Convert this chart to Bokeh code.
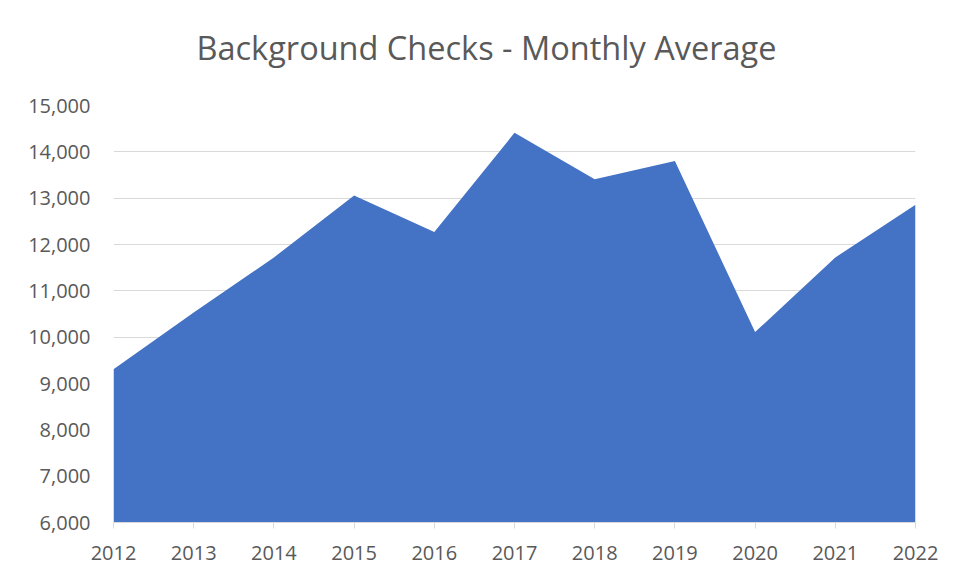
from bokeh.plotting import figure
from bokeh.models import Range1d, FixedTicker, NumeralTickFormatter, Title
from bokeh.embed import file_html
from bokeh.resources import INLINE

years = [2012, 2013, 2014, 2015, 2016, 2017, 2018, 2019, 2020, 2021, 2022]
checks = [9310, 10530, 11720, 13060, 12270, 14410, 13410, 13800, 10110, 11720, 12860]
y_ticks = [6000, 7000, 8000, 9000, 10000, 11000, 12000, 13000, 14000, 15000]
title_text = "Background Checks - Monthly Average"

p = figure(width=941, height=565, output_backend="svg", toolbar_location=None,
           x_range=Range1d(years[0], years[-1]), y_range=Range1d(y_ticks[0], y_ticks[-1]),
           min_border_left=113, min_border_right=26, min_border_top=105, min_border_bottom=43)
p.title = None
spacer = Title(text=" ", text_font_size="1px", standoff=33)
p.add_layout(spacer, "above")
t = Title(text=title_text, text_font="Open Sans", text_font_size="32.5px", text_font_style="normal",
          text_color="#595959", align="left", offset=83, standoff=0)
p.add_layout(t, "above")

p.varea(x=years, y1=y_ticks[0], y2=checks, fill_color="#4472C4")

p.outline_line_color = None
p.xgrid.grid_line_color = None
p.ygrid.grid_line_color = "#d9d9d9"
p.ygrid.grid_line_width = 1
p.ygrid.ticker = FixedTicker(ticks=y_ticks)

p.xaxis.ticker = FixedTicker(ticks=years)
p.xaxis.axis_line_color = "#d9d9d9"
p.xaxis.major_tick_line_color = "#d9d9d9"
p.xaxis.major_tick_out = 6
p.xaxis.major_tick_in = 0
p.xaxis.minor_tick_line_color = None
p.xaxis.major_label_standoff = 17
p.xaxis.major_label_text_font = "Open Sans"
p.xaxis.major_label_text_font_size = "20px"
p.xaxis.major_label_text_color = "#595959"

p.yaxis.ticker = FixedTicker(ticks=y_ticks)
p.yaxis.formatter = NumeralTickFormatter(format="0,0")
p.yaxis.axis_line_color = None
p.yaxis.major_tick_line_color = None
p.yaxis.minor_tick_line_color = None
p.yaxis.major_tick_out = 0
p.yaxis.major_tick_in = 0
p.yaxis.major_label_standoff = 23
p.yaxis.major_label_text_font = "Open Sans"
p.yaxis.major_label_text_font_size = "20px"
p.yaxis.major_label_text_color = "#595959"

open("out.html", "w").write(file_html(p, INLINE))
